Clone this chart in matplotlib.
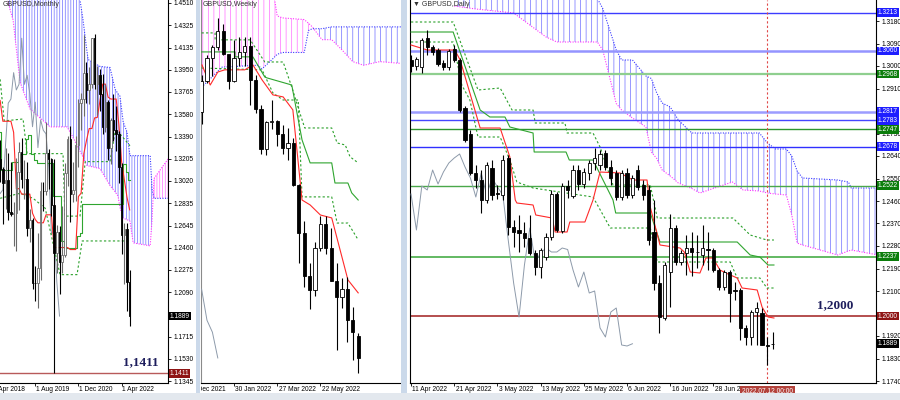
import matplotlib
matplotlib.use('Agg')
import matplotlib.pyplot as plt
from matplotlib.patches import Rectangle
import numpy as np

plt.rcParams['font.family'] = ['Liberation Sans', 'DejaVu Sans']
plt.rcParams['hatch.linewidth'] = 0.5

# ---------------- monthly, Jul 2018 .. Jul 2022
m_open = [1.3205,1.3123,1.3001,1.3030,1.2764,1.2746,1.2755,1.3094,1.3263,1.3033,1.3035,1.2626,1.2695,1.2165,1.2163,1.2292,1.2940,1.2935,1.3257,1.3203,1.2820,1.2420,1.2590,1.2340,1.2400,1.3090,1.3370,1.2915,1.2946,1.3323,1.3672,1.3706,1.3927,1.3782,1.3830,1.4215,1.3829,1.3905,1.3751,1.3474,1.3680,1.3299,1.3532,1.3444,1.3415,1.3133,1.2572,1.2622,1.2178]
m_high = [1.3363,1.3135,1.3298,1.3258,1.3176,1.2840,1.3216,1.3350,1.3381,1.3196,1.3176,1.2783,1.2710,1.2310,1.2582,1.3013,1.3011,1.3515,1.3284,1.3210,1.3200,1.2648,1.2640,1.2813,1.3171,1.3395,1.3482,1.3177,1.3398,1.3704,1.3759,1.4241,1.4017,1.3972,1.4220,1.4250,1.3984,1.3958,1.3913,1.3835,1.3698,1.3550,1.3750,1.3644,1.3436,1.3167,1.2667,1.2666,1.2276]
m_low = [1.3010,1.2662,1.2786,1.2696,1.2723,1.2477,1.2438,1.2773,1.2960,1.2866,1.2560,1.2506,1.2119,1.2015,1.1959,1.2195,1.2769,1.2904,1.2954,1.2725,1.1410,1.2248,1.2076,1.2252,1.2385,1.2981,1.2676,1.2845,1.2854,1.3135,1.3450,1.3565,1.3670,1.3668,1.3800,1.3786,1.3571,1.3602,1.3412,1.3433,1.3194,1.3161,1.3358,1.3272,1.3000,1.2411,1.2155,1.1934,1.1806]
m_close = [1.3123,1.3001,1.3030,1.2764,1.2746,1.2755,1.3094,1.3263,1.3033,1.3035,1.2626,1.2695,1.2165,1.2163,1.2292,1.2940,1.2935,1.3257,1.3203,1.2820,1.2420,1.2590,1.2340,1.2400,1.3090,1.3370,1.2915,1.2946,1.3323,1.3672,1.3706,1.3927,1.3782,1.3830,1.4215,1.3829,1.3905,1.3751,1.3474,1.3680,1.3299,1.3532,1.3444,1.3415,1.3133,1.2572,1.2622,1.2178,1.1889]
m_tenkan = [1.3694,1.3520,1.3520,1.3520,1.3520,1.3427,1.2955,1.2956,1.2910,1.2910,1.2910,1.2910,1.2750,1.2698,1.2670,1.2670,1.2670,1.2737,1.2737,1.2737,1.2463,1.2463,1.2463,1.2463,1.2463,1.2463,1.2446,1.2446,1.2446,1.2890,1.2918,1.3247,1.3360,1.3459,1.3459,1.3548,1.3552,1.3693,1.3831,1.3831,1.3722,1.3706,1.3706,1.3706,1.3492,1.3185,1.3034,1.2885,1.2778]
m_kijun = [1.3430,1.3109,1.3109,1.3109,1.3109,1.3182,1.3182,1.3182,1.3243,1.3243,1.3371,1.3408,1.3248,1.3196,1.3168,1.3168,1.3168,1.3168,1.3168,1.3168,1.2894,1.2894,1.2894,1.2514,1.2463,1.2463,1.2463,1.2463,1.2463,1.2557,1.2585,1.2826,1.2826,1.2826,1.2826,1.2830,1.2830,1.2830,1.2830,1.2830,1.2830,1.2830,1.2830,1.2830,1.2830,1.2830,1.3163,1.3092,1.3028]
m_dot1_x = [0, 1.5, 8.5, 10, 23.3, 24, 29.6, 31.5, 40.7, 42.6, 44.4, 48.1]
m_dot1_y = [1.3871, 1.3523, 1.3539, 1.3249, 1.3249, 1.2726, 1.2726, 1.3182, 1.3182, 1.3431, 1.3415, 1.3315]
m_dot2_x = [0, 7.4, 12.2, 16.7, 22.2, 28.5, 30.4, 48.1]
m_dot2_y = [1.2875, 1.2917, 1.2875, 1.2792, 1.2236, 1.2236, 1.2518, 1.2518]
m_cloud_x = [0, 3.7, 4.8, 7.4, 11.1, 18.5, 24.8, 26.7, 29.6, 30.7, 32.2, 32.6, 37, 40.7, 42.6, 43.7, 44.4, 45.6, 47, 48.1, 49.3, 55.6, 56.3, 57, 62.3]
m_span_a = [1.48, 1.4452, 1.4369, 1.3846, 1.3622, 1.3473, 1.3473, 1.3398, 1.3270, 1.3220, 1.3149, 1.3147, 1.3124, 1.2983, 1.2930, 1.2892, 1.2800, 1.2709, 1.2696, 1.2684, 1.2502, 1.2477, 1.2700, 1.3040, 1.3207]
m_span_b = [1.48, 1.47, 1.47, 1.47, 1.47, 1.47, 1.47, 1.47, 1.4535, 1.4370, 1.4100, 1.4037, 1.3979, 1.3970, 1.3788, 1.3750, 1.3730, 1.3514, 1.3430, 1.3232, 1.3232, 1.3232, 1.2950, 1.2875, 1.2875]
m_ticks = [1.4510,1.4325,1.4135,1.3950,1.3765,1.3580,1.3390,1.3205,1.3020,1.2835,1.2645,1.2460,1.2275,1.2090,1.1905,1.1715,1.1530,1.1345]
m_hidden = [1.1905]
m_date_pos = [-3, 13, 29, 45]
m_date_lbl = ['1 Apr 2018', '1 Aug 2019', '1 Dec 2020', '1 Apr 2022']

# ---------------- weekly, 19 Dec 2021 .. 10 Jul 2022
w_open = [1.3235,1.3403,1.3532,1.3590,1.3675,1.3550,1.3405,1.3530,1.3560,1.3595,1.3410,1.3250,1.3034,1.3180,1.3185,1.3115,1.3035,1.3065,1.2834,1.2574,1.2336,1.2260,1.2490,1.2620,1.2490,1.2310,1.2220,1.2265,1.2095,1.2010]
w_high = [1.3438,1.3548,1.3599,1.3749,1.3714,1.3543,1.3628,1.3644,1.3643,1.3642,1.3438,1.3275,1.3186,1.3298,1.3188,1.3165,1.3148,1.3090,1.2840,1.2638,1.2407,1.2525,1.2667,1.2666,1.2600,1.2406,1.2325,1.2332,1.2165,1.2028]
w_low = [1.3170,1.3395,1.3433,1.3574,1.3546,1.3358,1.3400,1.3488,1.3487,1.3272,1.3228,1.3002,1.3000,1.3140,1.3051,1.3003,1.2972,1.2829,1.2411,1.2275,1.2155,1.2230,1.2475,1.2460,1.2310,1.1934,1.2160,1.1976,1.1876,1.1806]
w_close = [1.3403,1.3532,1.3590,1.3675,1.3550,1.3405,1.3530,1.3560,1.3595,1.3410,1.3250,1.3034,1.3180,1.3185,1.3115,1.3035,1.3065,1.2834,1.2574,1.2336,1.2260,1.2490,1.2620,1.2490,1.2310,1.2220,1.2265,1.2095,1.2030,1.1889]
w_tk_x = [0.07, 1.6, 3, 4.3, 8, 9.5, 11.2, 13.2, 15.1, 16.9, 18.6, 20.1, 22, 24.1, 27.1, 29]
w_tk_y = [1.3492, 1.3382, 1.3453, 1.3465, 1.3465, 1.3492, 1.3410, 1.3328, 1.3317, 1.3246, 1.2753, 1.2726, 1.2671, 1.2655, 1.2316, 1.2245]
w_kj_x = [0, 6.2, 6.2, 9.5, 11.7, 12.1, 16.7, 18.6, 20.1, 24.1, 24.7, 27.1, 27.8, 29]
w_kj_y = [1.3563, 1.3563, 1.3536, 1.3536, 1.3426, 1.3421, 1.3382, 1.3082, 1.2956, 1.2956, 1.2846, 1.2846, 1.2792, 1.2753]
w_dot1_x = [0, 2.5, 2.5, 9, 11.7, 15.1, 16.7, 18.2, 19.1, 24.1, 25.1, 26.6, 27.5, 29]
w_dot1_y = [1.3667, 1.3667, 1.3629, 1.3629, 1.3508, 1.3508, 1.3371, 1.3229, 1.3147, 1.3147, 1.3065, 1.3054, 1.2989, 1.2956]
w_dot2_x = [0, 11.2, 13.2, 15.1, 17.9, 18.6, 24.1, 25.1, 27.1, 29]
w_dot2_y = [1.3475, 1.3465, 1.3339, 1.3300, 1.3300, 1.2770, 1.2770, 1.2627, 1.2627, 1.2535]
w_cloud_x = [0, 3.8, 10.4, 11.2, 13, 14, 15, 19, 19.8, 20.5, 22.3, 24.1, 26, 28, 30, 33, 37]
w_span_a = [1.400,1.400,1.400,1.400,1.395,1.3760,1.3749,1.3740,1.3720,1.3700,1.3630,1.3630,1.3574,1.3510,1.3490,1.3510,1.3500]
w_span_b = [1.3370,1.3480,1.3490,1.3470,1.3520,1.3550,1.3560,1.3560,1.3680,1.3690,1.3690,1.3700,1.3700,1.3700,1.3700,1.3700,1.3700]
w_date_pos = [-2, 6, 14, 22]
w_date_lbl = ['5 Dec 2021', '30 Jan 2022', '27 Mar 2022', '22 May 2022']

# ---------------- daily, 11 Apr 2022 .. 13 Jul 2022
d_open = [1.3024,1.3000,1.2996,1.3112,1.3076,1.3064,1.3012,1.2996,1.3068,1.3024,
          1.2832,1.2728,1.2572,1.2544,1.2464,1.2592,1.2492,1.2484,1.2632,1.2356,
          1.2344,1.2332,1.2312,1.2252,1.2196,1.2236,1.2316,1.2488,1.2340,1.2520,
          1.2480,1.2584,1.2528,1.2572,1.2612,1.2604,1.2652,1.2596,1.2572,1.2476,
          1.2572,1.2484,1.2584,1.2524,1.2504,1.2336,1.2132,1.1992,1.2176,1.2352,
          1.2216,1.2252,1.2272,1.2256,1.2244,1.2268,1.2264,1.2184,1.2116,1.2176,
          1.2104,1.2104,1.1952,1.1916,1.2016,1.2012,1.1884,1.1888]
d_high = [1.3044,1.3036,1.3112,1.3144,1.3084,1.3072,1.3024,1.3068,1.3084,1.3032,
          1.2840,1.2744,1.2604,1.2584,1.2616,1.2624,1.2524,1.2644,1.2644,1.2384,
          1.2404,1.2376,1.2404,1.2264,1.2272,1.2332,1.2504,1.2496,1.2532,1.2544,
          1.2604,1.2604,1.2592,1.2624,1.2672,1.2664,1.2664,1.2624,1.2584,1.2584,
          1.2592,1.2564,1.2604,1.2544,1.2524,1.2464,1.2164,1.2216,1.2408,1.2364,
          1.2264,1.2324,1.2336,1.2324,1.2364,1.2336,1.2272,1.2192,1.2184,1.2184,
          1.2136,1.2112,1.1964,1.2024,1.2056,1.2032,1.1916,1.1936]
d_low = [1.2976,1.2984,1.2972,1.3044,1.3044,1.3000,1.2984,1.2984,1.3016,1.2816,
         1.2696,1.2564,1.2512,1.2412,1.2452,1.2464,1.2468,1.2464,1.2324,1.2276,
         1.2256,1.2276,1.2244,1.2164,1.2152,1.2224,1.2304,1.2336,1.2332,1.2472,
         1.2472,1.2504,1.2512,1.2544,1.2584,1.2584,1.2584,1.2524,1.2464,1.2464,
         1.2472,1.2472,1.2504,1.2464,1.2284,1.2104,1.1932,1.1984,1.2036,1.2204,
         1.2204,1.2164,1.2160,1.2192,1.2204,1.2184,1.2176,1.2104,1.2104,1.1976,
         1.2064,1.1904,1.1884,1.1884,1.1884,1.1884,1.1804,1.1868]
d_close = [1.3000,1.3028,1.3104,1.3076,1.3056,1.3008,1.2996,1.3060,1.3024,1.2824,
           1.2704,1.2572,1.2544,1.2464,1.2604,1.2484,1.2488,1.2624,1.2356,1.2336,
           1.2332,1.2312,1.2252,1.2196,1.2264,1.2316,1.2488,1.2344,1.2520,1.2504,
           1.2584,1.2528,1.2576,1.2612,1.2632,1.2648,1.2596,1.2552,1.2476,1.2572,
           1.2484,1.2552,1.2516,1.2484,1.2304,1.2132,1.1996,1.2204,1.2352,1.2216,
           1.2252,1.2272,1.2256,1.2256,1.2272,1.2266,1.2184,1.2116,1.2176,1.2092,
           1.2100,1.1952,1.1916,1.2016,1.2032,1.1884,1.1880,1.1889]
d_tk_x = [0,3,8.1,9.1,12.8,16.5,18.3,19.3,19.6,22.6,23.1,26.1,26.7,28.9,29.4,32.2,33.7,35,38.7,41.1,43.7,44.3,46.1,49.8,50.6,51.7,53.5,54.6,55.9,57.2,58.7,60.4,61.3,64.1,65,66.1,67.2]
d_tk_y = [1.3084,1.3064,1.3064,1.3024,1.2752,1.2752,1.2636,1.2464,1.2452,1.2444,1.2404,1.2392,1.2336,1.2336,1.2376,1.2376,1.2464,1.2576,1.2572,1.2544,1.2544,1.2436,1.2284,1.2272,1.2256,1.2176,1.2172,1.2232,1.2232,1.2184,1.2168,1.2152,1.2112,1.2104,1.2036,1.1996,1.1992]
d_kj_x = [0,7.8,12.8,14.6,17.4,18.3,22.6,22.8,28.7,29.3,33.7,37.4,37.9,44.3,46.1,60.4,62.8,64.6,66.1,67.2]
d_kj_y = [1.3136,1.3136,1.2824,1.2796,1.2796,1.2756,1.2732,1.2656,1.2656,1.2624,1.2624,1.2464,1.2412,1.2412,1.2296,1.2296,1.2244,1.2236,1.2204,1.2204]
d_dot1_x = [0,7.8,12.4,16.5,18.7,22.6,23,28.5,28.9,33.7,35,37.4,44.3,45.6,59.6,62.8,65.9,67.2]
d_dot1_y = [1.3176,1.3176,1.2904,1.2912,1.2824,1.2824,1.2772,1.2772,1.2732,1.2732,1.2676,1.2524,1.2524,1.2392,1.2392,1.2324,1.2304,1.2304]
d_dot2_x = [0,7.8,9.4,10.9,12.4,16.5,18.3,19.6,22.6,33.7,36.9,44.3,45.6,59.1,60.4,64.6,65.9,67.2]
d_dot2_y = [1.3096,1.3096,1.2924,1.2864,1.2716,1.2716,1.2624,1.2536,1.2512,1.2476,1.2352,1.2352,1.2216,1.2216,1.2152,1.2152,1.2112,1.2112]
d_cloud_x = [8,12,19,25,27,34.5,35.5,38,39,41,43.5,44.5,45.5,46.5,48,49.5,52,53.5,59.5,61.5,64.5,66,67.5,69.5,70.5,71.5,72.5,79,81,81.5,86.5]
d_span_a = [1.3240,1.3228,1.3212,1.3116,1.3096,1.3096,1.3064,1.2850,1.2824,1.2792,1.2756,1.2656,1.2630,1.2584,1.2560,1.2532,1.2510,1.2492,1.2536,1.2504,1.2500,1.2492,1.2488,1.2484,1.2404,1.2292,1.2284,1.2244,1.2260,1.2264,1.2244]
d_span_b = [1.3300,1.3300,1.3300,1.3300,1.3300,1.3270,1.3230,1.3064,1.3024,1.3024,1.2960,1.2950,1.2892,1.2852,1.2836,1.2784,1.2732,1.2732,1.2732,1.2732,1.2732,1.2692,1.2668,1.2668,1.2640,1.2580,1.2552,1.2544,1.2536,1.2512,1.2512]
d_ticks = [1.3180,1.3090,1.3000,1.2910,1.2820,1.2730,1.2640,1.2550,1.2460,1.2370,1.2280,1.2190,1.2100,1.2010,1.1920,1.1830,1.1740]
d_hidden = [1.2820, 1.2010]
d_date_pos = [0, 8, 16, 24, 32, 40, 48, 56]
d_date_lbl = ['11 Apr 2022', '21 Apr 2022', '3 May 2022', '13 May 2022', '25 May 2022', '6 Jun 2022', '16 Jun 2022', '28 Jun 2022']
d_blue_levels = [1.3213, 1.3060, 1.2817, 1.2783, 1.2678]
d_green_levels = [1.2968, 1.2747, 1.2522, 1.2237]

RED = '#ff2a2a'
GREEN = '#2fa52f'
DOT_GREEN = '#2aa02a'
CHIKOU = '#8d9aaa'
BLUE = '#3a3aff'
MAGENTA = '#ff33ff'

fig = plt.figure(figsize=(9, 4), dpi=100)


def px_axes(l, t, r, b):
    return fig.add_axes([l / 900, 1 - b / 400, (r - l) / 900, (b - t) / 400])


def candles(ax, o, h, l, c, w, up_col='black'):
    o, h, l, c = map(np.asarray, (o, h, l, c))
    x = np.arange(len(o))
    up = c >= o
    ax.vlines(x[up], l[up], h[up], color=up_col, lw=0.8, zorder=4)
    ax.vlines(x[~up], l[~up], h[~up], color='black', lw=0.8, zorder=4)
    body = np.maximum(np.abs(c - o), 0.00004)
    bot = np.minimum(o, c)
    ax.bar(x[up], body[up], bottom=bot[up], width=w, color='white', edgecolor=up_col, lw=0.6, zorder=5)
    ax.bar(x[~up], body[~up], bottom=bot[~up], width=w, color='black', edgecolor='black', lw=0.6, zorder=5)


def cloud(ax, x, a, b, hatch):
    x, a, b = map(np.asarray, (x, a, b))
    with plt.rc_context({'hatch.color': '#6f6fff'}):
        ax.fill_between(x, a, b, where=b >= a, interpolate=True, facecolor='none',
                        edgecolor='#6f6fff', lw=0, hatch=hatch, zorder=1)
    with plt.rc_context({'hatch.color': '#ff6fff'}):
        ax.fill_between(x, a, b, where=a > b, interpolate=True, facecolor='none',
                        edgecolor='#ff6fff', lw=0, hatch=hatch, zorder=1)
    ax.plot(x, a, color=MAGENTA, ls=(0, (1, 1.3)), lw=0.8, zorder=1.5)
    ax.plot(x, b, color=BLUE, ls=(0, (1, 1.3)), lw=0.8, zorder=1.5)


def tag(ax, y, text, fc, width_px):
    ax.text(1 + 2 / width_px, y, text, transform=ax.get_yaxis_transform(), ha='left', va='center',
            fontsize=4.8, color='white', zorder=20, clip_on=False,
            bbox=dict(boxstyle='square,pad=0.12', fc=fc, ec='none'))


def price_axis(ax, ticks, hidden):
    ax.yaxis.tick_right()
    ax.set_yticks(ticks)
    ax.set_yticklabels(['' if v in hidden else f'{v:.4f}' for v in ticks])
    ax.tick_params(axis='y', length=2, width=0.6, labelsize=4.8, pad=2)


def date_labels(ax, pos, labels, left_px, right_px):
    clip = Rectangle((left_px / 900, 0), (right_px - left_px) / 900, 1, transform=fig.transFigure)
    for p, s in zip(pos, labels):
        t = ax.text(p + 0.25, -0.018, s, transform=ax.get_xaxis_transform(), ha='left', va='center',
                    fontsize=4.8, color='black', clip_on=True)
        t.set_clip_path(clip)


def frame(ax, left=True, right=True, left_col='black'):
    for s in ax.spines.values():
        s.set_linewidth(0.8)
    ax.spines['top'].set_visible(False)
    ax.spines['left'].set_visible(left)
    ax.spines['left'].set_color(left_col)
    ax.spines['right'].set_visible(right)
    ax.tick_params(axis='x', length=2, width=0.6, labelbottom=False)


# ---------------- monthly panel
ax1 = px_axes(0, 0, 168, 383)
cloud(ax1, m_cloud_x, m_span_a, m_span_b, '||||||')
ax1.axhline(1.1411, color='#b85a5a', lw=1.0, zorder=2)
mx = np.arange(len(m_close))
ax1.plot(mx[:len(m_close) - 26], m_close[26:], color=CHIKOU, lw=0.7, zorder=3)
ax1.plot(m_dot1_x, m_dot1_y, color=DOT_GREEN, ls=(0, (2, 2)), lw=0.8, zorder=3)
ax1.plot(m_dot2_x, m_dot2_y, color=DOT_GREEN, ls=(0, (2, 2)), lw=0.8, zorder=3)
ax1.plot(mx, m_kijun, color=GREEN, lw=0.8, drawstyle='steps-mid', zorder=3)
ax1.plot(mx, m_tenkan, color=RED, lw=0.8, zorder=3)
candles(ax1, m_open, m_high, m_low, m_close, 0.55, up_col='#6a6a6a')
ax1.set_xlim(-0.05, 62.2)
ax1.set_ylim(1.1329, 1.4535)
price_axis(ax1, m_ticks, m_hidden)
ax1.set_xticks([p for p in m_date_pos if p >= 0])
frame(ax1, left=False, right=True)
date_labels(ax1, m_date_pos, m_date_lbl, 0, 196)
tag(ax1, 1.1889, '1.1889', 'black', 168)
tag(ax1, 1.1411, '1.1411', '#8e1414', 168)
ax1.text(45.6, 1.1506, '1,1411', fontsize=9.5, fontweight='bold', family='Liberation Serif',
         color='#1d1d5c', ha='left', va='center', zorder=20)
ax1.text(3 / 168, 1 - 5 / 383, 'GBPUSD,Monthly', transform=ax1.transAxes, fontsize=5,
         color='#303030', ha='left', va='center', zorder=20)

# ---------------- weekly panel
ax2 = px_axes(201, 0, 401, 383)
cloud(ax2, w_cloud_x, w_span_a, w_span_b, '|||')
wx = np.arange(len(w_close))
ax2.plot(wx[:len(w_close) - 26], w_close[26:], color=CHIKOU, lw=0.7, zorder=3)
ax2.plot(w_dot1_x, w_dot1_y, color=DOT_GREEN, ls=(0, (2, 2)), lw=0.8, zorder=3)
ax2.plot(w_dot2_x, w_dot2_y, color=DOT_GREEN, ls=(0, (2, 2)), lw=0.8, zorder=3)
ax2.plot(w_kj_x, w_kj_y, color=GREEN, lw=0.8, zorder=3)
ax2.plot(w_tk_x, w_tk_y, color=RED, lw=0.8, zorder=3)
candles(ax2, w_open, w_high, w_low, w_close, 0.62)
ax2.set_xlim(-0.11, 36.93)
ax2.set_ylim(1.1752, 1.3847)
ax2.set_yticks([])
ax2.set_xticks([p for p in w_date_pos if p >= 0])
frame(ax2, left=True, right=False, left_col='#8a8a8a')
date_labels(ax2, w_date_pos, w_date_lbl, 201, 401)
ax2.text(2 / 200, 1 - 5 / 383, 'GBPUSD,Weekly', transform=ax2.transAxes, fontsize=5,
         color='#303030', ha='left', va='center', zorder=20)

# ---------------- daily panel
ax3 = px_axes(410, 0, 876, 383)
cloud(ax3, d_cloud_x, d_span_a, d_span_b, '|||')
ax3.axhline(1.3213, color='#3c3cff', lw=1.0, zorder=2)
ax3.axhline(1.3060, color='#9494ff', lw=1.8, zorder=2)
ax3.axhline(1.2817, color='#9c9cff', lw=1.8, zorder=2)
ax3.axhline(1.2783, color='#4646ff', lw=1.0, zorder=2)
ax3.axhline(1.2678, color='#3030ff', lw=1.0, zorder=2)
ax3.axhline(1.2968, color='#8fcf8f', lw=1.6, zorder=2)
ax3.axhline(1.2747, color='#2e962e', lw=1.0, zorder=2)
ax3.axhline(1.2522, color='#4aa84a', lw=1.0, zorder=2)
ax3.axhline(1.2237, color='#48ad48', lw=1.2, zorder=2)
ax3.axhline(1.2000, color='#a83030', lw=1.2, zorder=2)
ax3.axvline(66, color='#e04848', ls=(0, (2, 2)), lw=0.8, zorder=3)
dx = np.arange(len(d_close))
ax3.plot(dx[:len(d_close) - 26], d_close[26:], color=CHIKOU, lw=0.7, zorder=3)
ax3.plot(d_dot1_x, d_dot1_y, color=DOT_GREEN, ls=(0, (2, 2)), lw=0.8, zorder=3)
ax3.plot(d_dot2_x, d_dot2_y, color=DOT_GREEN, ls=(0, (2, 2)), lw=0.8, zorder=3)
ax3.plot(d_kj_x, d_kj_y, color=GREEN, lw=0.8, zorder=3)
ax3.plot(d_tk_x, d_tk_y, color=RED, lw=0.8, zorder=3)
candles(ax3, d_open, d_high, d_low, d_close, 0.6)
ax3.set_xlim(-0.19, 86.1)
ax3.set_ylim(1.1732, 1.3264)
price_axis(ax3, d_ticks, d_hidden)
ax3.set_xticks(d_date_pos)
frame(ax3, left=True, right=True)
date_labels(ax3, d_date_pos, d_date_lbl, 410, 876)
for v in d_blue_levels:
    tag(ax3, v, f'{v:.4f}', '#1e1eff', 466)
for v in d_green_levels:
    tag(ax3, v, f'{v:.4f}', '#0b7d0b', 466)
tag(ax3, 1.2000, '1.2000', '#8e1414', 466)
tag(ax3, 1.1889, '1.1889', 'black', 466)
ax3.text(66, -0.021, '2022.07.12 00:00', transform=ax3.get_xaxis_transform(), ha='center', va='center',
         fontsize=4.8, color='white', zorder=20, clip_on=False,
         bbox=dict(boxstyle='square,pad=0.3', fc='#b2413a', ec='none'))
ax3.text(75.2, 1.2044, '1,2000', fontsize=9.5, fontweight='bold', family='Liberation Serif',
         color='#1d1d5c', ha='left', va='center', zorder=20)
ax3.text(3 / 466, 1 - 5 / 383, '\u25bc GBPUSD,Daily', transform=ax3.transAxes, fontsize=5,
         color='#303030', ha='left', va='center', zorder=20)

# window frame strips
for l, r in [(196, 200), (401, 407)]:
    fig.patches.append(Rectangle((l / 900, 0), (r - l) / 900, 1, transform=fig.transFigure,
                                 fc='#cbd9ea', ec='none', zorder=0))
fig.patches.append(Rectangle((0, 0), 1, 7 / 400, transform=fig.transFigure, fc='#e3e8ee', ec='none', zorder=0))

fig.savefig('out.png', dpi=100)
